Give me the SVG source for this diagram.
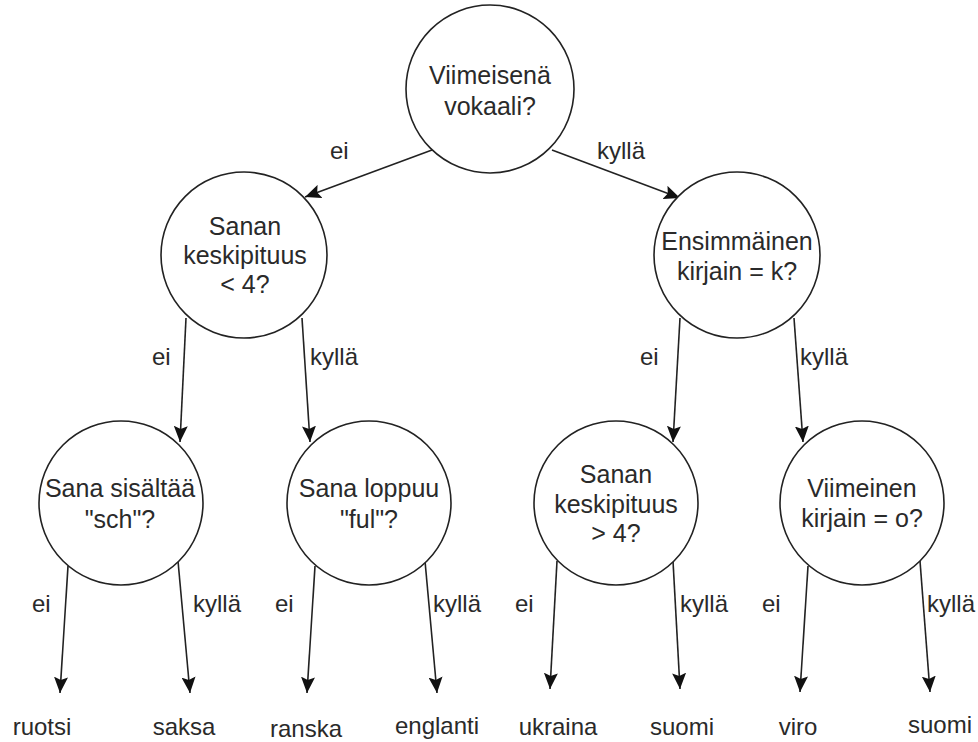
<svg xmlns="http://www.w3.org/2000/svg" width="978" height="742" viewBox="0 0 978 742">
<defs>
<style>
.node circle{fill:#fff;stroke:#222;stroke-width:1.6}
text{font-family:"Liberation Sans",Arial,sans-serif;font-size:24px;fill:#2a2a2a}
.node text{font-size:25px}
.c{text-anchor:middle}
.edges line{stroke:#222;stroke-width:1.6;marker-end:url(#arr)}
</style>
<marker id="arr" markerUnits="userSpaceOnUse" markerWidth="18" markerHeight="14" refX="16" refY="7" orient="auto">
<path d="M0,0 L16,7 L0,14 L3,7 z" fill="#111"/>
</marker>
</defs>
<rect width="978" height="742" fill="#fff"/>
<g class="edges">
<line x1="432" y1="150" x2="305" y2="197"/>
<line x1="552" y1="150" x2="680" y2="198"/>
<line x1="186" y1="318" x2="180" y2="442"/>
<line x1="302" y1="318" x2="310" y2="442"/>
<line x1="680" y1="318" x2="673" y2="442"/>
<line x1="794" y1="318" x2="803" y2="442"/>
<line x1="68" y1="566" x2="60" y2="693"/>
<line x1="178" y1="561" x2="190" y2="693"/>
<line x1="315" y1="566" x2="307" y2="693"/>
<line x1="425" y1="561" x2="437" y2="693"/>
<line x1="557" y1="561" x2="550" y2="689"/>
<line x1="673" y1="561" x2="680" y2="689"/>
<line x1="808" y1="566" x2="800" y2="692"/>
<line x1="920" y1="561" x2="930" y2="692"/>
</g>
<g id="edge-labels">
<text x="330" y="159">ei</text>
<text x="597" y="159">kyllä</text>
<text x="152" y="365">ei</text>
<text x="310" y="365">kyllä</text>
<text x="640" y="365">ei</text>
<text x="800" y="365">kyllä</text>
<text x="32" y="612">ei</text>
<text x="193" y="612">kyllä</text>
<text x="275" y="612">ei</text>
<text x="433" y="612">kyllä</text>
<text x="515" y="612">ei</text>
<text x="680" y="612">kyllä</text>
<text x="762" y="612">ei</text>
<text x="927" y="612">kyllä</text>
</g>
<g id="root" class="node">
<circle cx="490" cy="89" r="84"/>
<text class="c" x="490" y="84">Viimeisenä</text>
<text class="c" x="490" y="115">vokaali?</text>
</g>
<g id="n-keskipituus-lt4" class="node">
<circle cx="244" cy="255" r="83"/>
<text class="c" x="245" y="235">Sanan</text>
<text class="c" x="245" y="264">keskipituus</text>
<text class="c" x="245" y="293">&lt; 4?</text>
</g>
<g id="n-ensimmainen" class="node">
<circle cx="737" cy="255" r="83"/>
<text class="c" x="737" y="250">Ensimmäinen</text>
<text class="c" x="737" y="280">kirjain = k?</text>
</g>
<g id="n-sch" class="node">
<circle cx="121" cy="503" r="82"/>
<text class="c" x="120" y="497">Sana sisältää</text>
<text class="c" x="120" y="528">"sch"?</text>
</g>
<g id="n-ful" class="node">
<circle cx="369" cy="503" r="82"/>
<text class="c" x="369" y="497">Sana loppuu</text>
<text class="c" x="369" y="528">"ful"?</text>
</g>
<g id="n-keskipituus-gt4" class="node">
<circle cx="616" cy="503" r="82"/>
<text class="c" x="616" y="483">Sanan</text>
<text class="c" x="616" y="513">keskipituus</text>
<text class="c" x="616" y="542">&gt; 4?</text>
</g>
<g id="n-viimeinen-o" class="node">
<circle cx="862" cy="503" r="82"/>
<text class="c" x="862" y="497">Viimeinen</text>
<text class="c" x="862" y="527">kirjain = o?</text>
</g>
<g id="leaf-ruotsi"><text class="c" x="42" y="735">ruotsi</text></g>
<g id="leaf-saksa"><text class="c" x="184" y="735">saksa</text></g>
<g id="leaf-ranska"><text class="c" x="306" y="737">ranska</text></g>
<g id="leaf-englanti"><text class="c" x="437" y="734">englanti</text></g>
<g id="leaf-ukraina"><text class="c" x="558" y="735">ukraina</text></g>
<g id="leaf-suomi1"><text class="c" x="682" y="735">suomi</text></g>
<g id="leaf-viro"><text class="c" x="798" y="735">viro</text></g>
<g id="leaf-suomi2"><text class="c" x="940" y="733">suomi</text></g>
</svg>
